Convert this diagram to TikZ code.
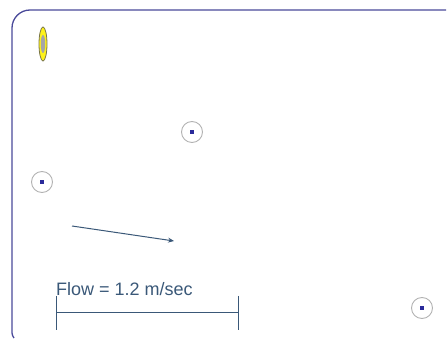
\documentclass[tikz,border=0pt]{standalone}
\usepackage{fontspec}
\setmainfont{Liberation Sans}
\usetikzlibrary{shapes.geometric,arrows.meta}
\definecolor{framec}{HTML}{4A4A9A}
\definecolor{flowc}{HTML}{3A5878}
\definecolor{dotc}{HTML}{2A2A9A}
\begin{document}
\begin{tikzpicture}[x=1pt,y=-1pt,
  frameline/.style={draw=framec,line width=1.3pt},
  flowline/.style={draw=flowc,line width=1pt},
  buoy/.style={circle,draw=black!30,line width=0.9pt,minimum size=21pt,inner sep=0pt},
  core/.style={rectangle,fill=dotc,minimum size=4.5pt,inner sep=0pt},
  lbl/.style={inner sep=0pt,anchor=base west,text=flowc,font=\fontsize{18}{20}\selectfont}]
\useasboundingbox (0,0) rectangle (448,339);
% frame
\coordinate (tr) at (446,10);
\coordinate (bl) at (12,333);
\draw[frameline,rounded corners=18pt] (bl) -- (12,10) -- (tr);
\draw[frameline] (bl) to[out=-90,in=120] (14,338);
% ellipse marker
\node[ellipse,draw=black!60!yellow,fill=yellow!90!white,line width=0.8pt,minimum width=8pt,minimum height=34pt,inner sep=0pt] (e) at (43,44) {};
\node[ellipse,fill=gray!70,minimum width=4.5pt,minimum height=18pt,inner sep=0pt] (ec) at (43,44) {};
% buoys
\node[buoy] (b1) at (192,132) {};
\node[core] at (b1) {};
\node[buoy] (b2) at (42,182) {};
\node[core] at (b2) {};
\node[buoy] (b3) at (422,308) {};
\node[core] at (b3) {};
% arrow
\coordinate (a1) at (72,226);
\coordinate (a2) at (174,241);
\draw[flowline,-{Stealth[length=6pt,width=5pt]}] (a1) -- (a2);
% scale bar
\node[lbl] (t) at (56,296) {Flow = 1.2 m/sec};
\coordinate (l1) at (56,313);
\coordinate (r1) at (238,313);
\draw[flowline] (l1) -- (r1);
\draw[flowline] (56,296) -- (56,330);
\draw[flowline] (238,296) -- (238,330);
\end{tikzpicture}
\end{document}
